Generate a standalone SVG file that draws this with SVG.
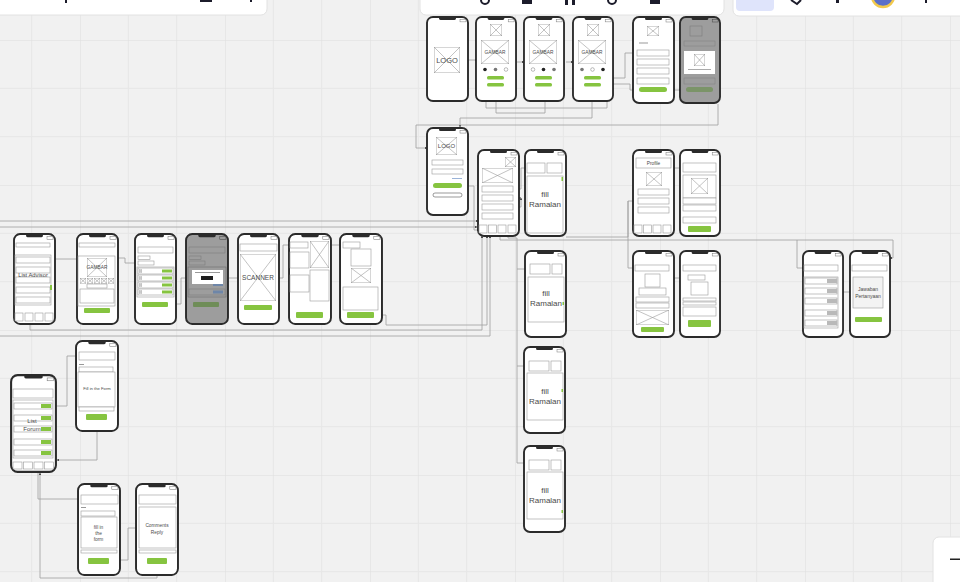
<svg xmlns="http://www.w3.org/2000/svg" width="960" height="582" viewBox="0 0 960 582">
<defs>
<style>
.bx{fill:#fff;stroke:#9a9a9a;stroke-width:0.6}
.bd{fill:none;stroke:#555;stroke-width:0.6}
.gb{fill:#86c440}
.gr{fill:#b9b9b9}
.cn{fill:none;stroke:#9e9e9e;stroke-width:0.8;marker-end:url(#ar)}
.t{font-family:"Liberation Sans",Arial,sans-serif;fill:#4a4a4a;text-anchor:middle}
.ic{fill:#1c1c2b}
</style>
<pattern id="grid" width="145" height="145" patternUnits="userSpaceOnUse" x="80" y="40">
<path d="M48.33 0V145M96.67 0V145M0 48.33H145M0 96.67H145" stroke="#e6e6e6" stroke-width="1" fill="none"/>
<path d="M0 0V145M0 0H145" stroke="#dedede" stroke-width="1" fill="none"/>
</pattern>
<marker id="ar" viewBox="0 0 6 6" refX="5" refY="3" markerWidth="3" markerHeight="3" orient="auto">
<path d="M0 0L6 3L0 6z" fill="#444"/>
</marker>
<symbol id="ph" viewBox="0 0 43 88" preserveAspectRatio="none">
<rect x="1" y="1" width="41" height="86" rx="6" fill="#fff" stroke="#2b2b2b" stroke-width="1.9"/>
<rect x="13" y="1" width="17" height="3" rx="1.5" fill="#2b2b2b"/>
<rect x="34" y="3.5" width="6" height="2.5" fill="none" stroke="#777" stroke-width="0.5"/>
</symbol>
<symbol id="phg" viewBox="0 0 43 88" preserveAspectRatio="none">
<rect x="1" y="1" width="41" height="86" rx="6" fill="#9d9d9d" stroke="#2b2b2b" stroke-width="1.9"/>
<rect x="13" y="1" width="17" height="3" rx="1.5" fill="#2b2b2b"/>
<rect x="34" y="3.5" width="6" height="2.5" fill="none" stroke="#444" stroke-width="0.5"/>
</symbol>
<symbol id="im" viewBox="0 0 10 10" preserveAspectRatio="none">
<rect x="0" y="0" width="10" height="10" fill="#fff" stroke="#8a8a8a" stroke-width="0.7" vector-effect="non-scaling-stroke"/>
<path d="M0 0L10 10M10 0L0 10" stroke="#9a9a9a" stroke-width="0.6" fill="none" vector-effect="non-scaling-stroke"/>
</symbol>
</defs>

<rect width="960" height="582" fill="#f1f1f1"/>
<rect width="960" height="582" fill="url(#grid)"/>

<!-- connectors -->
<g id="connectors">
<path class="cn" d="M467 60H477"/>
<path class="cn" d="M517 62H524"/>
<path class="cn" d="M566 62H573"/>
<path class="cn" d="M606 78H625V53H637"/>
<path class="cn" d="M604 84H630V90H639"/>
<path class="cn" d="M667 90H681"/>
<path class="cn" d="M486 80V108H607V86"/>
<path class="cn" d="M496 86V113H545V86"/>
<path class="cn" d="M592 79V118H460V127"/>
<path class="cn" d="M718 104V125H416V148H427"/>
<path class="cn" d="M462 186H474V230H479"/>
<path class="cn" d="M513 189H521V168H527"/>
<path class="cn" d="M513 198H521"/>
<path class="cn" d="M513 207H521V198"/>
<path class="cn" d="M0 221H478"/>
<path class="cn" d="M0 227H477"/>
<path class="cn" d="M500 233V240H893V258H890"/>
<path class="cn" d="M797 240V268H804"/>
<path class="cn" d="M566 237H628V201H638"/>
<path class="cn" d="M628 201V268H635"/>
<path class="cn" d="M671 168H683"/>
<path class="cn" d="M664 330H672V278H688"/>
<path class="cn" d="M838 292H853"/>
<path class="cn" d="M882 320H889V328H878"/>
<path class="cn" d="M508 233V238H517V463H530"/>
<path class="cn" d="M517 269H530"/>
<path class="cn" d="M517 366H530"/>
<path class="cn" d="M51 259H80V268H87"/>
<path class="cn" d="M115 258H125V263H137"/>
<path class="cn" d="M168 304H181V278H192"/>
<path class="cn" d="M229 278H240"/>
<path class="cn" d="M276 278H283V245H290"/>
<path class="cn" d="M332 245H343"/>
<path class="cn" d="M30 321V330H482V236"/>
<path class="cn" d="M0 336H490V236"/>
<path class="cn" d="M374 315H386V325H487V236"/>
<path class="cn" d="M52 406H67V356H79"/>
<path class="cn" d="M97 420V460H57"/>
<path class="cn" d="M38 468V499H81"/>
<path class="cn" d="M109 560H128V528H139"/>
<path class="cn" d="M157 563V578H40V473"/>
</g>

<!-- toolbars -->
<g id="toolbar-left">
<rect x="-10" y="-10" width="277" height="25" rx="6" fill="#fff" stroke="#e2e2e2"/>
<rect class="ic" x="65" y="0" width="2" height="3"/>
<rect class="ic" x="200" y="0" width="12" height="2"/>
<rect class="ic" x="250" y="0" width="2" height="2"/>
</g>
<g id="toolbar-center">
<rect x="420" y="-10" width="304" height="25" rx="6" fill="#fff" stroke="#e2e2e2"/>
<circle cx="485" cy="0" r="4" fill="none" stroke="#1c1c2b" stroke-width="2"/>
<rect class="ic" x="522" y="0" width="10" height="4"/>
<rect class="ic" x="565" y="0" width="3" height="5"/>
<rect class="ic" x="572" y="0" width="3" height="5"/>
<circle cx="612" cy="0" r="4" fill="none" stroke="#1c1c2b" stroke-width="2"/>
<rect class="ic" x="650" y="0" width="10" height="4"/>
</g>
<g id="toolbar-right">
<rect x="733" y="-10" width="240" height="26" rx="6" fill="#fff" stroke="#e2e2e2"/>
<rect x="736" y="-6" width="38" height="17" rx="4" fill="#dfe4fb"/>
<path d="M791 0L797 4L801 0" fill="none" stroke="#1c1c2b" stroke-width="2"/>
<rect class="ic" x="836" y="0" width="3" height="3"/>
<circle cx="883" cy="-4" r="11" fill="#5a6fc9" stroke="#f2c94c" stroke-width="2.5"/>
<rect class="ic" x="925" y="0" width="2" height="3"/>
</g>
<g id="zoom-panel">
<rect x="933" y="537" width="40" height="55" rx="6" fill="#fff" stroke="#e2e2e2"/>
<rect x="950" y="558.5" width="10" height="1.5" fill="#222"/>
</g>

<!-- top row -->
<g id="splash">
<use href="#ph" x="426" y="16" width="43" height="86"/>
<use href="#im" x="434" y="47" width="26" height="26"/>
<text class="t" x="447" y="63" font-size="7.5" fill="#666">LOGO</text>
</g>
<g id="onboard1">
<use href="#ph" x="475" y="16" width="42" height="86"/>
<use href="#im" x="490" y="24" width="12" height="12"/>
<use href="#im" x="481" y="40" width="28" height="24"/>
<text class="t" x="495" y="54" font-size="4.8">GAMBAR</text>
<circle cx="485" cy="69.5" r="1.8" fill="#222"/>
<circle cx="495.5" cy="69.5" r="1.8" fill="#777"/>
<circle cx="506" cy="69.5" r="1.8" fill="#fff" stroke="#777" stroke-width="0.5"/>
<rect class="gb" x="487" y="76" width="17" height="3.5" rx="1.5"/>
<rect class="gb" x="487" y="83" width="17" height="3.5" rx="1.5"/>
</g>
<g id="onboard2">
<use href="#ph" x="523" y="16" width="42" height="86"/>
<use href="#im" x="538" y="24" width="12" height="12"/>
<use href="#im" x="529" y="40" width="28" height="24"/>
<text class="t" x="543" y="54" font-size="4.8">GAMBAR</text>
<circle cx="533" cy="69.5" r="1.8" fill="#fff" stroke="#777" stroke-width="0.5"/>
<circle cx="543.5" cy="69.5" r="1.8" fill="#222"/>
<circle cx="554" cy="69.5" r="1.8" fill="#777"/>
<rect class="gb" x="535" y="76" width="17" height="3.5" rx="1.5"/>
<rect class="gb" x="535" y="83" width="17" height="3.5" rx="1.5"/>
</g>
<g id="onboard3">
<use href="#ph" x="572" y="16" width="42" height="86"/>
<use href="#im" x="587" y="24" width="12" height="12"/>
<use href="#im" x="578" y="40" width="28" height="24"/>
<text class="t" x="592" y="54" font-size="4.8">GAMBAR</text>
<circle cx="582" cy="69.5" r="1.8" fill="#777"/>
<circle cx="592.5" cy="69.5" r="1.8" fill="#fff" stroke="#777" stroke-width="0.5"/>
<circle cx="603" cy="69.5" r="1.8" fill="#222"/>
<rect class="gb" x="584" y="76" width="17" height="3.5" rx="1.5"/>
<rect class="gb" x="584" y="83" width="17" height="3.5" rx="1.5"/>
</g>
<g id="signup">
<use href="#ph" x="632" y="16" width="43" height="88"/>
<use href="#im" x="647" y="26" width="12" height="10"/>
<rect x="639" y="42.5" width="9" height="1" fill="#999"/>
<rect class="bx" x="637" y="50" width="32" height="6"/>
<rect class="bx" x="637" y="59" width="32" height="6"/>
<rect class="bx" x="637" y="68" width="32" height="6"/>
<rect class="bx" x="637" y="78" width="32" height="6"/>
<rect class="gb" x="639" y="87" width="28" height="5" rx="2.5"/>
</g>
<g id="signup-success">
<use href="#phg" x="679" y="16" width="42" height="88"/>
<rect x="690" y="26" width="12" height="10" fill="none" stroke="#777" stroke-width="0.5"/>
<rect x="684" y="41" width="31" height="5" fill="none" stroke="#808080" stroke-width="0.5"/>
<rect x="684" y="51" width="31" height="23" fill="#fff"/>
<use href="#im" x="694" y="54" width="11" height="12"/>
<rect x="688" y="69" width="23" height="1" fill="#aaa"/>
<rect x="684" y="78" width="31" height="6" fill="none" stroke="#808080" stroke-width="0.5"/>
<rect x="686" y="87" width="27" height="5" rx="2.5" fill="#7b9468"/>
</g>

<!-- second row -->
<g id="login">
<use href="#ph" x="426" y="127" width="43" height="89"/>
<use href="#im" x="436" y="137" width="21" height="18"/>
<text class="t" x="446.5" y="148" font-size="6" fill="#666">LOGO</text>
<rect class="bx" x="432" y="160" width="31" height="5"/>
<rect class="bx" x="432" y="169" width="31" height="5"/>
<rect x="452" y="178" width="10" height="1" fill="#9ab3d8"/>
<rect class="gb" x="433" y="183" width="29" height="5" rx="2.5"/>
<rect class="bd" x="433" y="193" width="29" height="4" rx="2"/>
</g>
<g id="home">
<use href="#ph" x="477" y="149" width="43" height="88"/>
<use href="#im" x="505" y="157" width="11" height="10"/>
<use href="#im" x="482" y="168" width="31" height="15"/>
<rect class="bx" x="482" y="186" width="31" height="6"/>
<rect class="bx" x="482" y="195" width="31" height="6"/>
<rect class="bx" x="482" y="204" width="31" height="6"/>
<rect class="bx" x="482" y="213" width="31" height="6"/>
<rect class="bx" x="479" y="225" width="8" height="8"/>
<rect class="bx" x="488.5" y="225" width="8" height="8"/>
<rect class="bx" x="498" y="225" width="8" height="8"/>
<rect class="bx" x="508" y="225" width="8" height="8"/>
</g>
<g id="ramalan1">
<use href="#ph" x="524" y="149" width="43" height="88"/>
<rect class="bx" x="527" y="163" width="18" height="10"/>
<rect class="bx" x="547" y="163" width="15" height="10"/>
<rect class="bx" x="527" y="176" width="36" height="57"/>
<rect class="gb" x="561.5" y="177" width="1.5" height="4"/>
<text class="t" x="545" y="197" font-size="8">fill</text>
<text class="t" x="545" y="206.5" font-size="8">Ramalan</text>
</g>
<g id="profile">
<use href="#ph" x="632" y="149" width="43" height="88"/>
<rect class="bx" x="636" y="158" width="35" height="10"/>
<text class="t" x="653.5" y="165" font-size="4.8">Profile</text>
<use href="#im" x="646" y="172" width="16" height="14"/>
<rect class="bx" x="638" y="189" width="31" height="6"/>
<rect class="bx" x="638" y="198" width="31" height="6"/>
<rect class="bx" x="638" y="207" width="31" height="6"/>
<rect class="bx" x="634" y="225" width="8" height="8"/>
<rect class="bx" x="643.5" y="225" width="8" height="8"/>
<rect class="bx" x="653" y="225" width="8" height="8"/>
<rect class="bx" x="663" y="225" width="8" height="8"/>
</g>
<g id="your-profile">
<use href="#ph" x="679" y="149" width="42" height="88"/>
<rect class="bx" x="683" y="163" width="33" height="9"/>
<rect class="bx" x="683" y="175" width="33" height="23"/>
<use href="#im" x="691" y="178" width="17" height="16"/>
<rect class="bx" x="683" y="198" width="33" height="6"/>
<rect class="bx" x="683" y="205" width="33" height="6"/>
<rect class="bx" x="683" y="217" width="33" height="6"/>
<rect class="gb" x="688" y="226" width="23" height="6" rx="1"/>
</g>

<!-- row 3 -->
<g id="list-advisor">
<use href="#ph" x="13" y="233" width="43" height="92"/>
<rect class="bx" x="16" y="243" width="34" height="4"/>
<rect class="bx" x="15" y="255" width="36" height="50"/>
<rect class="bx" x="16" y="257" width="34" height="6"/>
<rect class="bx" x="16" y="267" width="34" height="6"/>
<rect class="bx" x="16" y="277" width="34" height="6"/>
<rect class="bx" x="16" y="287" width="34" height="6"/>
<rect class="bx" x="16" y="297" width="34" height="6"/>
<rect class="gb" x="50" y="285" width="2" height="5"/>
<text class="t" x="33" y="277" font-size="5.8">List Advisor</text>
<rect class="bx" x="15" y="313" width="8" height="8"/>
<rect class="bx" x="25" y="313" width="8" height="8"/>
<rect class="bx" x="35" y="313" width="8" height="8"/>
<rect class="bx" x="45" y="313" width="8" height="8"/>
</g>
<g id="advisor-detail">
<use href="#ph" x="76" y="233" width="43" height="92"/>
<rect class="bx" x="79" y="243" width="36" height="4"/>
<rect class="bx" x="78" y="256" width="37" height="50"/>
<use href="#im" x="87" y="258" width="20" height="19"/>
<text class="t" x="97" y="269" font-size="4.8">GAMBAR</text>
<use href="#im" x="80" y="278" width="6" height="5.5"/>
<use href="#im" x="87" y="278" width="6" height="5.5"/>
<use href="#im" x="94" y="278" width="6" height="5.5"/>
<use href="#im" x="101" y="278" width="6" height="5.5"/>
<use href="#im" x="108" y="278" width="6" height="5.5"/>
<rect class="bx" x="87" y="284" width="20" height="4"/>
<rect class="bx" x="80" y="289" width="34" height="14"/>
<rect class="gb" x="84" y="308" width="26" height="5" rx="1"/>
</g>
<g id="booking">
<use href="#ph" x="134" y="233" width="43" height="92"/>
<rect class="bx" x="138" y="247" width="35" height="6"/>
<rect class="bx" x="138" y="256" width="12" height="3.5"/>
<rect class="bx" x="138" y="261" width="16" height="4"/>
<rect class="bx" x="137" y="267" width="37" height="30"/>
<rect class="bx" x="138" y="268" width="35" height="6"/>
<rect class="bx" x="138" y="275" width="35" height="6"/>
<rect class="bx" x="138" y="282" width="35" height="6"/>
<rect class="bx" x="138" y="289" width="35" height="6"/>
<use href="#im" x="139" y="269.5" width="3" height="3"/>
<use href="#im" x="139" y="276.5" width="3" height="3"/>
<use href="#im" x="139" y="283.5" width="3" height="3"/>
<use href="#im" x="139" y="290.5" width="3" height="3"/>
<rect class="gb" x="162" y="269.5" width="10" height="3"/>
<rect class="gb" x="162" y="276.5" width="10" height="3"/>
<rect class="gb" x="162" y="283.5" width="10" height="3"/>
<rect class="gb" x="162" y="290.5" width="10" height="3"/>
<rect class="gb" x="142" y="302" width="26" height="5" rx="1"/>
</g>
<g id="booking-success">
<use href="#phg" x="185" y="233" width="44" height="92"/>
<rect x="189" y="247" width="36" height="6" fill="none" stroke="#777" stroke-width="0.5"/>
<rect x="189" y="256" width="12" height="3.5" fill="none" stroke="#777" stroke-width="0.5"/>
<rect x="189" y="261" width="16" height="4" fill="none" stroke="#777" stroke-width="0.5"/>
<rect x="188" y="267" width="38" height="30" fill="none" stroke="#666" stroke-width="0.5"/>
<rect x="189" y="289" width="36" height="6" fill="none" stroke="#777" stroke-width="0.5"/>
<rect x="213" y="290.5" width="10" height="3" fill="#6e86a8"/>
<rect x="213" y="283" width="10" height="3" fill="#6e86a8"/>
<rect x="192" y="270" width="31" height="14" fill="#fff"/>
<rect x="195" y="272" width="25" height="1" fill="#999"/>
<rect x="201" y="276" width="12" height="4" fill="#1e1e1e"/>
<rect x="193" y="302" width="26" height="5" rx="1" fill="#6f8d58"/>
</g>
<g id="scanner">
<use href="#ph" x="237" y="233" width="43" height="92"/>
<rect class="bx" x="240" y="244" width="37" height="7"/>
<use href="#im" x="240" y="254" width="36" height="47"/>
<text class="t" x="258" y="280" font-size="6.5">SCANNER</text>
<rect class="gb" x="244" y="305" width="28" height="5" rx="1"/>
</g>
<g id="scan-result">
<use href="#ph" x="288" y="233" width="44" height="92"/>
<rect class="bx" x="290" y="242" width="18" height="6"/>
<use href="#im" x="310" y="241" width="19" height="27"/>
<rect class="bx" x="290" y="252" width="19" height="16"/>
<rect class="bx" x="290" y="275" width="19" height="17"/>
<rect class="bx" x="310" y="270" width="19" height="31"/>
<rect class="gb" x="296" y="312" width="27" height="6" rx="1"/>
</g>
<g id="scan-detail">
<use href="#ph" x="339" y="233" width="44" height="92"/>
<rect class="bx" x="343" y="242" width="17" height="6"/>
<rect class="bx" x="351" y="249" width="20" height="17"/>
<use href="#im" x="351" y="268" width="20" height="15"/>
<rect class="bx" x="343" y="287" width="35" height="23"/>
<rect class="gb" x="347" y="312" width="27" height="6" rx="1"/>
</g>

<!-- ramalan column -->
<g id="ramalan2">
<use href="#ph" x="524" y="250" width="43" height="88"/>
<rect class="bx" x="530" y="264" width="20" height="10"/>
<rect class="bx" x="552" y="264" width="10" height="10"/>
<rect class="bx" x="528" y="277" width="36" height="45"/>
<rect class="gb" x="562.5" y="302" width="1.5" height="3"/>
<text class="t" x="546" y="296" font-size="8">fill</text>
<text class="t" x="546" y="305.5" font-size="8">Ramalan</text>
</g>
<g id="ramalan3">
<use href="#ph" x="523" y="346" width="43" height="88"/>
<rect class="bx" x="529" y="361" width="20" height="10"/>
<rect class="bx" x="551" y="361" width="10" height="10"/>
<rect class="bx" x="527" y="373" width="36" height="47"/>
<rect class="gb" x="561.5" y="389" width="1.5" height="3"/>
<text class="t" x="545" y="394" font-size="8">fill</text>
<text class="t" x="545" y="403.5" font-size="8">Ramalan</text>
</g>
<g id="ramalan4">
<use href="#ph" x="523" y="445" width="43" height="88"/>
<rect class="bx" x="529" y="460" width="20" height="10"/>
<rect class="bx" x="551" y="460" width="10" height="10"/>
<rect class="bx" x="527" y="472" width="36" height="47"/>
<rect class="gb" x="561.5" y="510" width="1.5" height="3"/>
<text class="t" x="545" y="493" font-size="8">fill</text>
<text class="t" x="545" y="502.5" font-size="8">Ramalan</text>
</g>

<!-- about / faq -->
<g id="about-us">
<use href="#ph" x="632" y="250" width="43" height="88"/>
<rect class="bx" x="635" y="265" width="34" height="6"/>
<rect class="bx" x="645" y="274" width="15" height="13"/>
<rect class="bx" x="639" y="288" width="27" height="7"/>
<rect class="bx" x="636" y="297" width="33" height="5"/>
<rect class="bx" x="636" y="303" width="33" height="5"/>
<use href="#im" x="636" y="310" width="33" height="15"/>
<rect class="gb" x="641" y="327" width="23" height="5" rx="1"/>
</g>
<g id="about-us-2">
<use href="#ph" x="679" y="250" width="42" height="88"/>
<rect class="bx" x="683" y="265" width="33" height="6"/>
<rect class="bx" x="688" y="275" width="17" height="5"/>
<rect class="bx" x="691" y="282" width="17" height="13"/>
<rect class="bx" x="683" y="298" width="33" height="3"/>
<rect class="bx" x="683" y="302" width="33" height="3"/>
<rect class="bx" x="683" y="307" width="33" height="9"/>
<rect class="gb" x="688" y="320" width="23" height="7" rx="1"/>
</g>
<g id="faq">
<use href="#ph" x="802" y="250" width="42" height="88"/>
<rect class="bx" x="804" y="265" width="34" height="6"/>
<rect class="bx" x="804" y="277" width="34" height="51"/>
<rect class="bx" x="805" y="278" width="32" height="6"/>
<rect class="bx" x="805" y="288" width="32" height="6"/>
<rect class="bx" x="805" y="298" width="32" height="6"/>
<rect class="bx" x="805" y="310" width="32" height="6"/>
<rect class="bx" x="805" y="320" width="32" height="6"/>
<rect class="gr" x="827" y="279" width="10" height="4"/>
<rect class="gr" x="827" y="289" width="10" height="4"/>
<rect class="gr" x="827" y="299" width="10" height="4"/>
<rect class="gr" x="827" y="311" width="10" height="4"/>
<rect class="gr" x="827" y="321" width="10" height="4"/>
</g>
<g id="pertanyaan">
<use href="#ph" x="849" y="250" width="42" height="88"/>
<rect class="bx" x="852" y="265" width="35" height="6"/>
<rect x="853" y="277" width="30" height="31" fill="#f3f3f3" stroke="#9a9a9a" stroke-width="0.6"/>
<text class="t" x="868" y="291" font-size="5">Jawaban</text>
<text class="t" x="868" y="297.5" font-size="5">Pertanyaan</text>
<rect class="gb" x="855" y="317" width="27" height="5" rx="1"/>
</g>

<!-- forum area -->
<g id="form">
<use href="#ph" x="75" y="340" width="44" height="92"/>
<rect class="bx" x="79" y="352" width="36" height="8"/>
<rect x="79" y="364" width="5" height="1" fill="#999"/>
<rect class="bx" x="79" y="367" width="34" height="5"/>
<rect class="bx" x="78" y="372" width="37" height="35"/>
<text class="t" x="97" y="390" font-size="4.2">Fill in the Form</text>
<rect class="bx" x="79" y="407" width="35" height="4"/>
<rect class="gb" x="86" y="414" width="21" height="6" rx="1"/>
</g>
<g id="list-forum">
<use href="#ph" x="10" y="374" width="47" height="99"/>
<rect class="bx" x="13" y="389" width="40" height="9"/>
<rect class="bx" x="13" y="400" width="40" height="58"/>
<rect class="bx" x="14" y="403" width="38" height="6"/>
<rect class="bx" x="14" y="415" width="38" height="6"/>
<rect class="bx" x="14" y="426" width="38" height="6"/>
<rect class="bx" x="14" y="439" width="38" height="6"/>
<rect class="bx" x="14" y="450" width="38" height="6"/>
<rect class="gb" x="41" y="404" width="10" height="4"/>
<rect class="gb" x="41" y="416" width="10" height="4"/>
<rect class="gb" x="41" y="427" width="10" height="4"/>
<rect class="gb" x="41" y="440" width="10" height="4"/>
<rect class="gb" x="41" y="451" width="10" height="4"/>
<text class="t" x="32" y="423" font-size="6">List</text>
<text class="t" x="32" y="431" font-size="6">Forum</text>
<rect class="bx" x="13" y="462" width="9" height="7"/>
<rect class="bx" x="23.5" y="462" width="9" height="7"/>
<rect class="bx" x="34" y="462" width="9" height="7"/>
<rect class="bx" x="44.5" y="462" width="9" height="7"/>
</g>
<g id="forum-post">
<use href="#ph" x="77" y="483" width="44" height="93"/>
<rect class="bx" x="81" y="495" width="37" height="9"/>
<rect x="81" y="507" width="5" height="1" fill="#999"/>
<rect class="bx" x="81" y="511" width="34" height="5"/>
<rect class="bx" x="81" y="517" width="36" height="31"/>
<text class="t" x="98.5" y="529" font-size="4.8">fill in</text>
<text class="t" x="98.5" y="535" font-size="4.8">the</text>
<text class="t" x="98.5" y="541" font-size="4.8">form</text>
<rect class="bx" x="81" y="550" width="36" height="3"/>
<rect class="gb" x="88" y="558" width="21" height="6" rx="1"/>
</g>
<g id="comments">
<use href="#ph" x="135" y="483" width="44" height="93"/>
<rect class="bx" x="139" y="495" width="37" height="9"/>
<rect class="bx" x="139" y="507" width="37" height="41"/>
<text class="t" x="157" y="527" font-size="4.8">Comments</text>
<text class="t" x="157" y="533.5" font-size="4.8">Reply</text>
<rect class="bx" x="139" y="550" width="37" height="3"/>
<rect class="gb" x="147" y="558" width="20" height="6" rx="1"/>
</g>
</svg>
